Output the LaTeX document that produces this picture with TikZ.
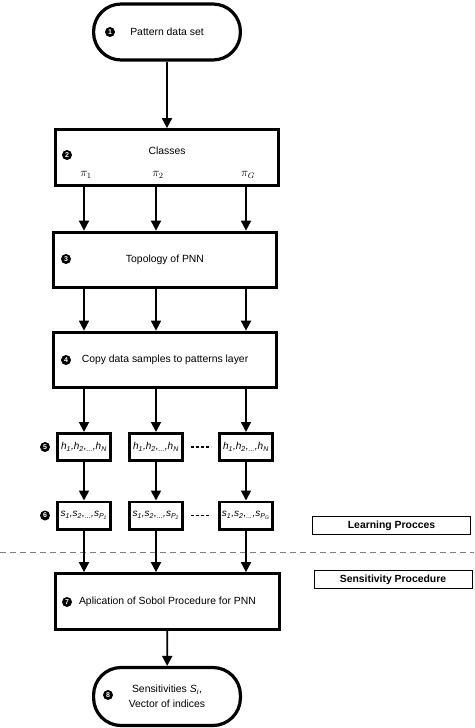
\documentclass[tikz,border=0pt]{standalone}
\usepackage{fontspec}
\setmainfont{Liberation Sans}
\usetikzlibrary{positioning,arrows.meta}

\newcommand{\hlist}{\textit{h\textsubscript{1},h\textsubscript{2},\textsubscript{...},h\textsubscript{N}}}
\newcommand{\slist}[1]{\textit{s\textsubscript{1},s\textsubscript{2},\textsubscript{...},s\textsubscript{P\textsubscript{#1}}}}

\tikzset{
  box/.style={draw, line width=3.2pt, minimum width=222.8pt, minimum height=55.5pt},
  term/.style={draw, line width=3.2pt, rounded corners=27.5pt, minimum width=146.8pt, minimum height=56pt, align=center},
  cell/.style={draw, line width=2.8pt, minimum width=53.2pt, minimum height=27.2pt, inner sep=0pt, font=\fontsize{10}{12}\selectfont},
  tag/.style={draw, line width=0.8pt, minimum width=158pt, minimum height=18pt, inner sep=0pt, font=\fontsize{10.4}{12}\selectfont\bfseries},
  num/.style={circle, fill=black, text=white, inner sep=0pt, minimum size=10pt, font=\fontsize{7}{7}\selectfont\bfseries},
  arr/.style={line width=1.8pt, -{Triangle[length=10pt,width=10pt]}},
  dots/.style={line width=1.8pt, dash pattern=on 3pt off 2pt, shorten <=7pt, shorten >=7pt},
  sep/.style={gray, line width=0.8pt, dash pattern=on 6pt off 4pt}
}

\begin{document}
\begin{tikzpicture}[x=1pt, y=-1pt, font=\fontsize{10.4}{15}\selectfont]
\useasboundingbox (0,0) rectangle (474,728);

\def\xa{84}
\def\xb{156}
\def\xc{246}

\def\ya{447}
\def\yb{515.5}

\node[term] (data) at (167,32) {Pattern data set};
\node[num] (n1) at (110,32) {1};

\node[box] (cls) at (167,157.5) {};
\node (clst) at (167,151) {Classes};
\node[num] (n2) at (67,155) {2};
\node (pa) at (86,175) {\fontsize{12}{12}\selectfont$\pi_1$};
\node (pb) at (158,175) {\fontsize{12}{12}\selectfont$\pi_2$};
\node (pc) at (248,175) {\fontsize{12}{12}\selectfont$\pi_G$};

\node[box] (topo) at (165,260) {Topology of PNN};
\node[num] (n3) at (66,259) {3};

\node[box] (copy) at (165,360) {Copy data samples to patterns layer};
\node[num] (n4) at (66,360) {4};

\node[cell] (h1) at (\xa,\ya) {\hlist};
\node[cell] (h2) at (\xb,\ya) {\hlist};
\node[cell] (h3) at (\xc,\ya) {\hlist};
\node[num] (n5) at (45,\ya) {5};

\node[cell] (s1) at (\xa,\yb) {\slist{1}};
\node[cell] (s2) at (\xb,\yb) {\slist{2}};
\node[cell] (s3) at (\xc,\yb) {\slist{G}};
\node[num] (n6) at (45,\yb) {6};

\node[box, minimum width=223.8pt] (sobol) at (167.5,601.5) {Aplication of Sobol Procedure for PNN};
\node[num] (n7) at (67,602) {7};

\node[term, minimum height=58pt] (sens) at (167,696.5) {Sensitivities \textit{S}\textsubscript{\textit{i}},\\Vector of indices};
\node[num] (n8) at (108,695) {8};

\node[tag] (learn) at (391.5,525.5) {Learning Procces};
\node[tag] (senproc) at (393,579.5) {Sensitivity Procedure};

\coordinate (l) at (0,552);
\coordinate (r) at (474,552);
\draw[sep] (l) -- (r);

\draw[arr] (data) -- (cls);
\foreach \i in {1,2,3} {
  \draw[arr] (cls.south -| h\i) -- (topo.north -| h\i);
  \draw[arr] (topo.south -| h\i) -- (copy.north -| h\i);
  \draw[arr] (copy.south -| h\i) -- (h\i);
  \draw[arr] (h\i) -- (s\i);
  \draw[arr] (s\i) -- (sobol.north -| s\i);
}
\draw[dots] (h2) -- (h3);
\draw[dots] (s2) -- (s3);
\draw[arr] (sobol) -- (sens);

\end{tikzpicture}
\end{document}
